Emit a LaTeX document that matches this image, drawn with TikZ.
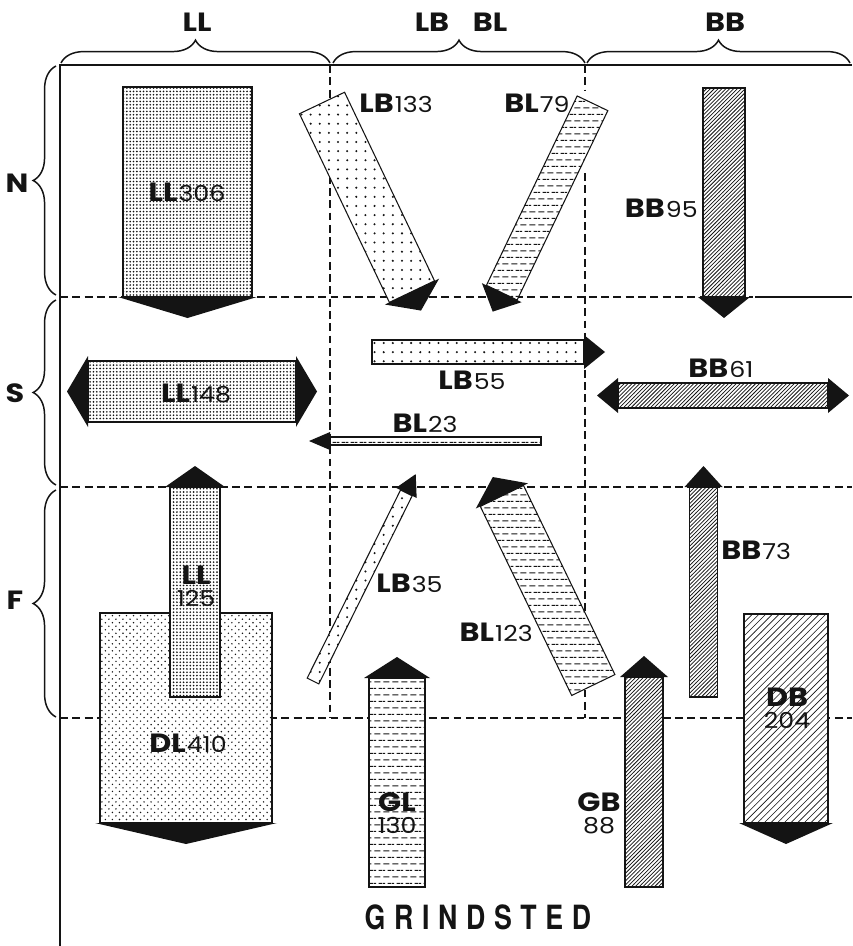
\documentclass[tikz,border=0pt]{standalone}
\usepackage{fontspec}
\setmainfont{Poppins}[FakeStretch=1.15]
\newfontfamily\townfont[FakeStretch=0.8,LetterSpace=26]{TeX Gyre Heros}
\usepackage{xcolor}
\usepackage{tikz}
\usetikzlibrary{calc,patterns,decorations.pathreplacing}
\definecolor{printInk}{HTML}{141414}
% fill patterns of the flow bars
\pgfdeclarepatternformonly{densedots}{\pgfqpoint{-0.6pt}{-0.6pt}}{\pgfqpoint{0.6pt}{0.6pt}}{\pgfqpoint{1.9pt}{1.9pt}}{%
  \pgfpathcircle{\pgfqpoint{0pt}{0pt}}{0.52pt}\pgfusepath{fill}}
\pgfdeclarepatternformonly{mediumdots}{\pgfqpoint{-0.5pt}{-0.5pt}}{\pgfqpoint{4.5pt}{4.5pt}}{\pgfqpoint{4pt}{4pt}}{%
  \pgfpathcircle{\pgfqpoint{0pt}{0pt}}{0.45pt}\pgfpathcircle{\pgfqpoint{2pt}{2pt}}{0.45pt}\pgfusepath{fill}}
\pgfdeclarepatternformonly{sparsedots}{\pgfqpoint{-0.7pt}{-0.7pt}}{\pgfqpoint{0.7pt}{0.7pt}}{\pgfqpoint{5.2pt}{5.2pt}}{%
  \pgfpathcircle{\pgfqpoint{0pt}{0pt}}{0.65pt}\pgfusepath{fill}}
\pgfdeclarepatternformonly{dashfill}{\pgfqpoint{0pt}{0pt}}{\pgfqpoint{5.2pt}{7.6pt}}{\pgfqpoint{5.2pt}{7.6pt}}{%
  \pgfsetlinewidth{0.6pt}
  \pgfpathmoveto{\pgfqpoint{0.3pt}{1.9pt}}\pgfpathlineto{\pgfqpoint{4pt}{1.9pt}}
  \pgfpathmoveto{\pgfqpoint{2.9pt}{5.7pt}}\pgfpathlineto{\pgfqpoint{5.2pt}{5.7pt}}
  \pgfpathmoveto{\pgfqpoint{0pt}{5.7pt}}\pgfpathlineto{\pgfqpoint{1.4pt}{5.7pt}}
  \pgfusepath{stroke}}
\pgfdeclarepatternformonly{densehatch}{\pgfqpoint{-1pt}{-1pt}}{\pgfqpoint{3.2pt}{3.2pt}}{\pgfqpoint{2.2pt}{2.2pt}}{%
  \pgfsetlinewidth{0.42pt}\pgfpathmoveto{\pgfqpoint{0pt}{0pt}}\pgfpathlineto{\pgfqpoint{2.3pt}{2.3pt}}\pgfusepath{stroke}}
\pgfdeclarepatternformonly{lighthatch}{\pgfqpoint{-1pt}{-1pt}}{\pgfqpoint{4.8pt}{4.8pt}}{\pgfqpoint{3.8pt}{3.8pt}}{%
  \pgfsetlinewidth{0.35pt}\pgfpathmoveto{\pgfqpoint{0pt}{0pt}}\pgfpathlineto{\pgfqpoint{3.9pt}{3.9pt}}\pgfusepath{stroke}}
\tikzset{
  frameline/.style={draw=printInk, line width=1.1pt},
  gridline/.style={draw=printInk, line width=0.8pt, dash pattern=on 4.5pt off 2.5pt},
  bracestroke/.style={draw=printInk, line width=0.85pt, decorate, decoration={brace, amplitude=13pt, aspect=0.5}},
  zonetag/.style={font=\fontsize{15}{15}\selectfont\bfseries, text=printInk, inner sep=0pt},
  flowtag/.style={font=\fontsize{15}{12.5}\selectfont, text=printInk, inner sep=0pt, align=center},
  barbody/.style={draw=printInk, line width=0.6pt, preaction={fill=white}, pattern color=printInk},
  barhead/.style={fill=printInk},
  towntag/.style={font=\townfont\fontsize{19}{19}\selectfont\bfseries, text=printInk, inner sep=0pt},
}
% #1 pattern, #2 tail, #3 angle, #4 length, #5 half width
\newcommand{\flowbar}[5]{%
  \begin{scope}[shift={#2}, rotate=#3]
    \draw[barbody, pattern=#1] (0,-#5) rectangle (#4,#5);
    \fill[barhead] (#4,-#5-5) -- (#4+21,0) -- (#4,#5+5) -- cycle;
  \end{scope}}
\newcommand{\flowbarboth}[5]{%
  \begin{scope}[shift={#2}, rotate=#3]
    \draw[barbody, pattern=#1] (0,-#5) rectangle (#4,#5);
    \fill[barhead] (#4,-#5-5) -- (#4+21,0) -- (#4,#5+5) -- cycle;
    \fill[barhead] (0,-#5-5) -- (-21,0) -- (0,#5+5) -- cycle;
  \end{scope}}
\newcommand{\flowtxt}[2]{{\bfseries #1}\kern0.6pt{\fontsize{12.5}{12.5}\selectfont #2}}
\newcommand{\stacktxt}[2]{{\bfseries #1}\\{\fontsize{12.5}{12.5}\selectfont #2}}

\begin{document}
\begin{tikzpicture}[x=0.02cm, y=-0.02cm]
  \useasboundingbox (0,0) rectangle (852,946);

  % Frame and grid
  \draw[frameline] (60,946) -- (60,65) -- (852,65);
  \draw[gridline] (330,65) -- (330,718);
  \draw[gridline] (585,65) -- (585,90);
  \draw[gridline] (585,173) -- (585,718);
  \draw[gridline] (60,297) -- (753,297);
  \draw[frameline, line width=0.8pt] (755,297) -- (852,297);
  \draw[gridline] (60,487) -- (852,487);
  \draw[gridline] (60,718) -- (852,718);

  % Column braces
  \draw[bracestroke] (61,63) -- (330,63);
  \draw[bracestroke] (333,63) -- (585,63);
  \draw[bracestroke] (587,63) -- (850,63);
  \node[zonetag] (colLL) at (197,22) {LL};
  \node[zonetag] (colLB) at (432,22) {LB};
  \node[zonetag] (colBL) at (490,22) {BL};
  \node[zonetag] (colBB) at (725,22) {BB};

  % Row braces
  \draw[bracestroke] (56,295) -- (56,66);
  \draw[bracestroke] (56,485) -- (56,300);
  \draw[bracestroke] (56,717) -- (56,490);
  \node[zonetag] (rowN) at (17,183) {N};
  \node[zonetag] (rowS) at (15,393) {S};
  \node[zonetag] (rowF) at (15,600) {F};

  % N row
  \flowbar{densedots}{(187.5,87)}{-90}{210}{64.5}
  \flowbar{sparsedots}{(322,103)}{-64.5}{209}{25}
  \flowbar{dashfill}{(592.5,103.3)}{-115.6}{210}{17}
  \flowbar{densehatch}{(724,88)}{-90}{209}{21}
  \node[flowtag] (ll306) at (187,192) {\flowtxt{LL}{306}};
  \node[flowtag, anchor=west] (lb133) at (359,103) {\flowtxt{LB}{133}};
  \node[flowtag, anchor=east] (bl79) at (570,103) {\flowtxt{BL}{79}};
  \node[flowtag, anchor=east] (bb95) at (698,208) {\flowtxt{BB}{95}};

  % S row
  \flowbar{sparsedots}{(372,352)}{0}{212}{12}
  \flowbarboth{densedots}{(88,391.5)}{0}{208}{30.5}
  \flowbar{dashfill}{(541,441)}{180}{211}{4}
  \flowbarboth{densehatch}{(618,395.5)}{0}{210}{12.5}
  \node[flowtag] (ll148) at (196,393) {\flowtxt{LL}{148}};
  \node[flowtag] (lb55) at (472,380) {\flowtxt{LB}{55}};
  \node[flowtag] (bl23) at (425,423) {\flowtxt{BL}{23}};
  \node[flowtag] (bb61) at (721,368) {\flowtxt{BB}{61}};

  % F row and outflows
  \flowbar{mediumdots}{(186,613)}{-90}{210}{86}
  \flowbar{densedots}{(195,697)}{90}{210}{25}
  \flowbar{sparsedots}{(313,681)}{63.6}{210}{6.5}
  \flowbar{dashfill}{(593.3,685)}{115.8}{210}{24}
  \flowbar{dashfill}{(397,887)}{90}{209}{28}
  \flowbar{densehatch}{(644,887)}{90}{210}{19}
  \flowbar{densehatch}{(703.5,697)}{90}{210}{14}
  \flowbar{lighthatch}{(786,614)}{-90}{209}{42}
  \node[flowtag] (ll125) at (196,586) {\stacktxt{LL}{125}};
  \node[flowtag] (dl410) at (188,743) {\flowtxt{DL}{410}};
  \node[flowtag, anchor=west] (lb35) at (376,583) {\flowtxt{LB}{35}};
  \node[flowtag, anchor=east] (bl123) at (533,632) {\flowtxt{BL}{123}};
  \node[flowtag] (gl130) at (397,813) {\stacktxt{GL}{130}};
  \node[flowtag] (gb88) at (599,813) {\stacktxt{GB}{88}};
  \node[flowtag, anchor=west] (bb73) at (721,550) {\flowtxt{BB}{73}};
  \node[flowtag] (db204) at (787,708) {\stacktxt{DB}{204}};

  \node[towntag] (town) at (478,917) {GRINDSTED};
\end{tikzpicture}
\end{document}
